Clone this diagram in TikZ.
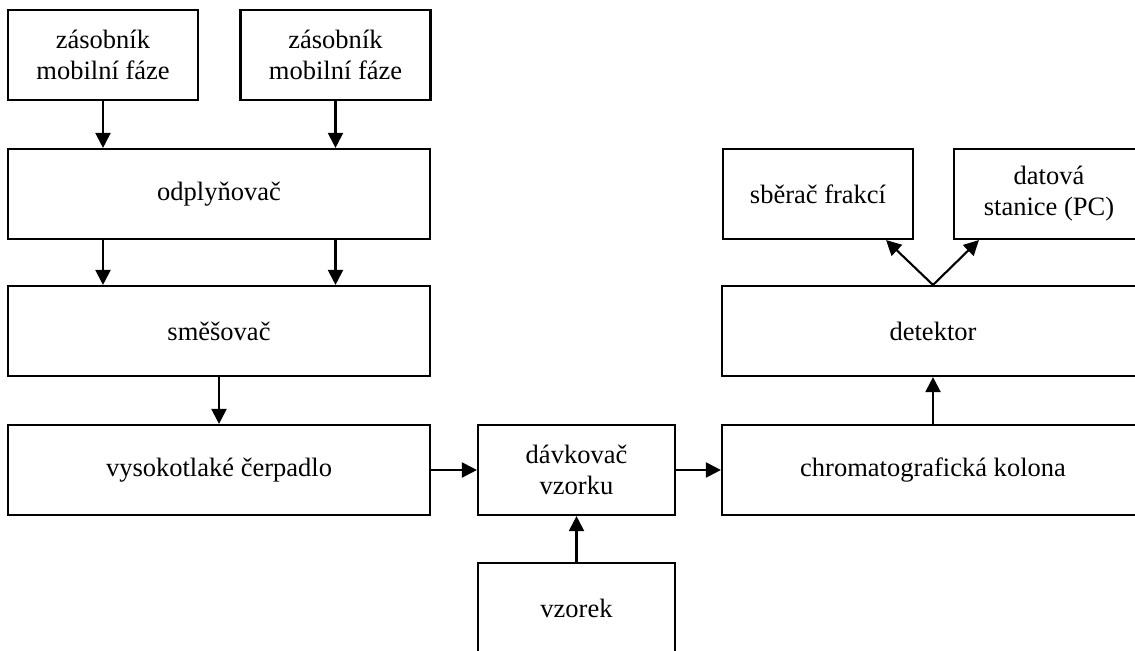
\documentclass[tikz,border=0pt]{standalone}
\usepackage{fontspec}
\setmainfont{Liberation Serif}
\usepackage{tikz}
\usetikzlibrary{arrows.meta, shapes, backgrounds}

\begin{document}
\begin{tikzpicture}[x=0.025cm, y=-0.025cm, background rectangle/.style={fill=white}, show background rectangle, inner frame sep=0pt]
            \useasboundingbox (0,0) rectangle (1135,650);
            \clip (0,0) rectangle (1135,650);
            \begin{scope}[every node/.style={rectangle, draw=black, line width=1.5pt, minimum height=2.25cm, align=center, font=\fontsize{18.85}{22}\selectfont}]
                \node[minimum width=4.75cm] (zas1) at (103,55) {zásobník\\mobilní fáze};
                \node[minimum width=4.75cm] (zas2) at (335.5,55) {zásobník\\mobilní fáze};
                \node[minimum width=10.55cm] (odply) at (219,194) {odplyňovač};
                \node[minimum width=10.55cm] (smes) at (219,331) {směšovač};
                \node[minimum width=10.55cm] (cerp) at (219,470) {vysokotlaké čerpadlo};
                \node[minimum width=4.925cm] (davk) at (576.5,470) {dávkovač\\vzorku};
                \node[minimum width=4.925cm] (vzorek) at (576.5,608) {vzorek};
                \node[minimum width=10.55cm] (kolona) at (933,470) {chromatografická kolona};
                \node[minimum width=10.55cm] (det) at (933,331) {detektor};
                \node[minimum width=4.75cm] (sberac) at (818,194) {sběrač frakcí};
                \node[minimum width=4.75cm] (pc) at (1049,194) {datová\\stanice (PC)};
            \end{scope}

            \begin{scope}[>={Triangle[length=0.375cm, width=0.375cm, black]},
                          every edge/.style={draw=black, line width=1.5pt}]
                \path[->] (zas1) edge (zas1 |- odply.north);
                \path[->] (zas2) edge (zas2 |- odply.north);
                \path[->] (odply.south -| zas1) edge (smes.north -| zas1);
                \path[->] (odply.south -| zas2) edge (smes.north -| zas2);
                \path[->] (smes) edge (cerp);
                \path[->] (cerp) edge (davk);
                \path[->] (vzorek) edge (davk);
                \path[->] (davk) edge (kolona);
                \path[->] (kolona) edge (det);
                \path[->] (det.north) edge ([xshift=-0.7cm]sberac.south east);
                \path[->] (det.north) edge ([xshift=0.65cm]pc.south west);
            \end{scope}
\end{tikzpicture}
\end{document}
